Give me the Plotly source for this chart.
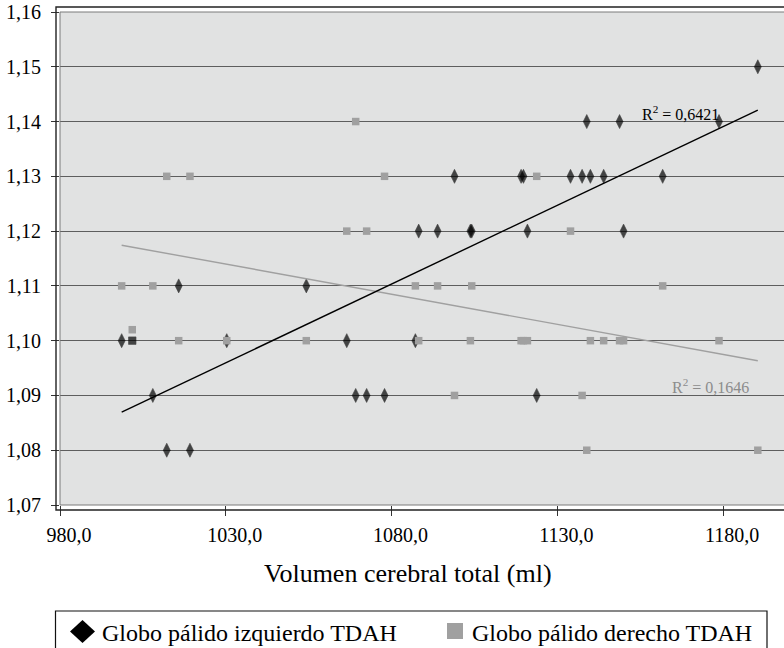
import numpy as np
import plotly.graph_objects as go

# Volumen cerebral total (ml) por sujeto y ratio del globo pálido
volumen = [998.6, 1001.8, 1008.0, 1012.2, 1015.8, 1019.2, 1030.3, 1054.3,
           1066.5, 1069.2, 1072.5, 1077.9, 1087.2, 1088.2, 1093.9, 1099.0,
           1103.8, 1104.2, 1119.1, 1119.8, 1121.0, 1123.8, 1134.0, 1137.5,
           1138.9, 1140.0, 1144.0, 1148.8, 1150.0, 1161.8, 1178.8, 1190.5]
izquierdo = [1.10, 1.10, 1.09, 1.08, 1.11, 1.08, 1.10, 1.11,
             1.10, 1.09, 1.09, 1.09, 1.10, 1.12, 1.12, 1.13,
             1.12, 1.12, 1.13, 1.13, 1.12, 1.09, 1.13, 1.13,
             1.14, 1.13, 1.13, 1.14, 1.12, 1.13, 1.14, 1.15]
derecho = [1.11, 1.102, 1.11, 1.13, 1.10, 1.13, 1.10, 1.10,
           1.12, 1.14, 1.12, 1.13, 1.11, 1.10, 1.11, 1.09,
           1.10, 1.11, 1.10, 1.10, 1.10, 1.13, 1.12, 1.09,
           1.08, 1.10, 1.10, 1.10, 1.10, 1.11, 1.10, 1.08]

serie_izq = "Globo pálido izquierdo TDAH"
serie_der = "Globo pálido derecho TDAH"
r2_izq = "R<sup>2</sup> = 0,6421"
r2_der = "R<sup>2</sup> = 0,1646"
titulo_x = "Volumen cerebral total (ml)"

x_ticks = [980, 1030, 1080, 1130, 1180]
y_ticks = [1.07, 1.08, 1.09, 1.10, 1.11, 1.12, 1.13, 1.14, 1.15, 1.16]

W, H = 784, 648
L, T, BOT = 60, 12, 505
PW, PH = W - L, BOT - T

def px(x):
    return (x - L) / PW

def py(y):
    return (BOT - y) / PH

FONT = "Liberation Serif"
NEGRO = "#000000"
GRIS = "#a0a0a0"

x = np.array(volumen)
fig = go.Figure()

# Nubes de puntos
simbolos = ["diamond-tall"] * len(volumen)
simbolos[1] = "square"
fig.add_trace(go.Scatter(
    x=volumen, y=izquierdo, mode="markers", name=serie_izq,
    marker=dict(symbol=simbolos, size=[10 if s != "square" else 7.5 for s in simbolos],
                color=NEGRO, line=dict(width=0.6, color=NEGRO)),
    showlegend=False))
fig.add_trace(go.Scatter(
    x=volumen, y=derecho, mode="markers", name=serie_der,
    marker=dict(symbol="square", size=7.5, color=GRIS, line=dict(width=0)),
    showlegend=False))

# Líneas de tendencia lineal
xs = np.array([x.min(), x.max()])
for ys, col in ((derecho, GRIS), (izquierdo, NEGRO)):
    m, b = np.polyfit(x, np.array(ys), 1)
    fig.add_trace(go.Scatter(x=xs, y=m * xs + b, mode="lines",
                             line=dict(color=col, width=1.4),
                             showlegend=False, hoverinfo="skip"))

shapes = [
    # doble marco del área de trazado
    dict(type="rect", xref="paper", yref="paper", x0=0, x1=1.01, y0=0, y1=1,
         line=dict(color="#7a7a7a", width=1)),
    dict(type="rect", xref="paper", yref="paper",
         x0=px(56), x1=px(792), y0=py(510), y1=py(7),
         line=dict(color="#222222", width=1.4)),
    # leyenda
    dict(type="rect", xref="paper", yref="paper",
         x0=px(55.5), x1=px(767), y0=py(611), y1=py(670),
         line=dict(color="#111111", width=1.2)),
    dict(type="path", xref="paper", yref="paper",
         path=f"M {px(70)},{py(631.5)} L {px(82.5)},{py(620)} L {px(95)},{py(631.5)} L {px(82.5)},{py(643)} Z",
         fillcolor=NEGRO, line=dict(width=0)),
    dict(type="rect", xref="paper", yref="paper",
         x0=px(447), x1=px(463), y0=py(639), y1=py(623),
         fillcolor=GRIS, line=dict(width=0)),
]

annotations = [
    dict(text=r2_izq, xref="paper", yref="paper", x=px(640), y=py(113),
         xanchor="left", yanchor="middle", showarrow=False,
         font=dict(family=FONT, size=16, color=NEGRO)),
    dict(text=r2_der, xref="paper", yref="paper", x=px(670), y=py(386),
         xanchor="left", yanchor="middle", showarrow=False,
         font=dict(family=FONT, size=16, color="#8c8c8c")),
    dict(text=titulo_x, xref="paper", yref="paper", x=px(407.5), y=py(573),
         xanchor="center", yanchor="middle", showarrow=False,
         font=dict(family=FONT, size=26, color=NEGRO)),
    dict(text=serie_izq, xref="paper", yref="paper", x=px(100), y=py(633),
         xanchor="left", yanchor="middle", showarrow=False,
         font=dict(family=FONT, size=24, color=NEGRO)),
    dict(text=serie_der, xref="paper", yref="paper", x=px(470), y=py(633),
         xanchor="left", yanchor="middle", showarrow=False,
         font=dict(family=FONT, size=24, color=NEGRO)),
]

fig.update_layout(
    width=W, height=H,
    margin=dict(l=L, r=0, t=T, b=H - BOT, pad=0),
    paper_bgcolor="white", plot_bgcolor="#e1e2e2",
    separators=",.",
    font=dict(family=FONT, size=20, color=NEGRO),
    shapes=shapes, annotations=annotations,
    xaxis=dict(range=[980, 980 + PW / 3.315], tickvals=x_ticks, tickformat=".1f",
               showgrid=False, zeroline=False, showline=False,
               ticks="outside", ticklen=10, tickcolor="#333333", tickwidth=1,
               ticklabelshift=9, ticklabelstandoff=2,
               tickfont=dict(family=FONT, size=20, color=NEGRO)),
    yaxis=dict(range=[1.07, 1.16], tickvals=y_ticks, tickformat=".2f",
               showgrid=True, gridcolor="#5e5e5e", gridwidth=1,
               zeroline=False, showline=False,
               ticks="outside", ticklen=8, tickcolor="#333333", tickwidth=1,
               ticklabelstandoff=6,
               tickfont=dict(family=FONT, size=20, color=NEGRO)),
)

fig.write_html("out.html")
